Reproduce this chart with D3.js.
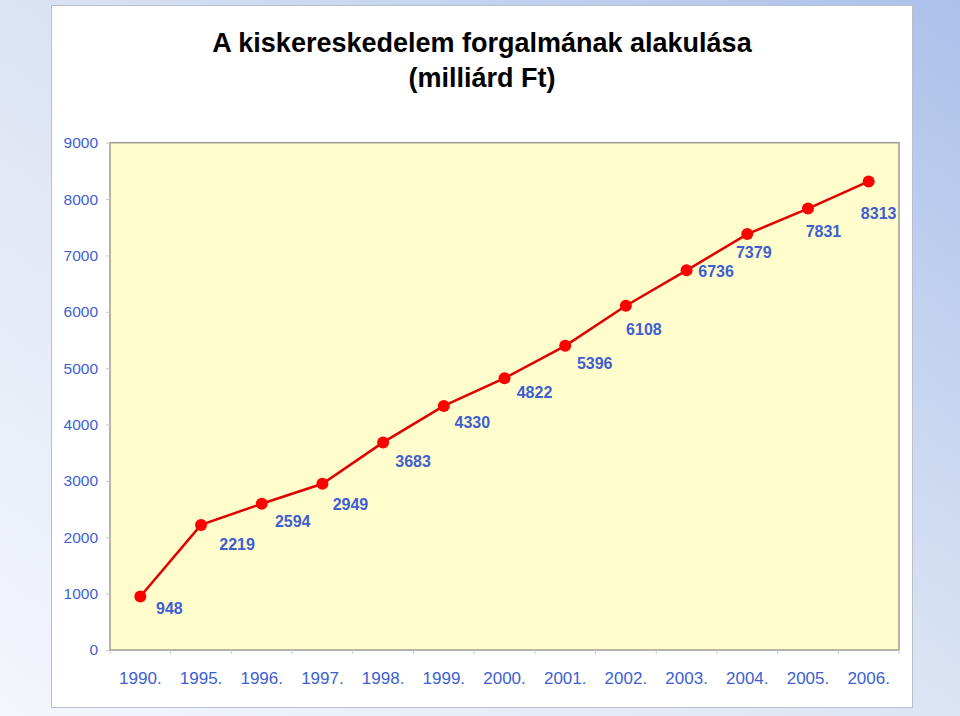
<!DOCTYPE html>
<html>
<head>
<meta charset="utf-8">
<script src="https://cdn.jsdelivr.net/npm/d3@7"></script>
<style>
  html, body { margin: 0; padding: 0; background: #fff; }
  svg { display: block; }
</style>
</head>
<body>
<svg id="chart" width="960" height="716"></svg>
<script>
// ---- data ----
const categories = ["1990.", "1995.", "1996.", "1997.", "1998.", "1999.", "2000.", "2001.", "2002.", "2003.", "2004.", "2005.", "2006."];
const values = [948, 2219, 2594, 2949, 3683, 4330, 4822, 5396, 6108, 6736, 7379, 7831, 8313];
const yTicks = [0, 1000, 2000, 3000, 4000, 5000, 6000, 7000, 8000, 9000];
const titleLines = ["A kiskereskedelem forgalmának alakulása", "(milliárd Ft)"];
// label placement offsets (pixels, relative to the point)
const labelDx = [29, 36, 31, 28, 30, 28.5, 30, 29.5, 18, 29.5, 6.5, 15.5, 10];
const labelDy = [12, 19, 17.5, 20, 18.5, 16, 14.5, 17, 24, 1, 18, 23, 32];

const svg = d3.select("#chart");
const W = 960, H = 716;
const blue = "#3d5fd2";
const font = "'Liberation Sans', Arial, Helvetica, sans-serif";

// background gradient
const defs = svg.append("defs");
const g = defs.append("linearGradient").attr("id", "bg")
  .attr("x1", 1).attr("y1", 0).attr("x2", 0).attr("y2", 1);
g.append("stop").attr("offset", 0).attr("stop-color", "#abc1ea");
g.append("stop").attr("offset", 0.5).attr("stop-color", "#dbe4f4");
g.append("stop").attr("offset", 1).attr("stop-color", "#f4f6fb");
svg.append("rect").attr("width", W).attr("height", H).attr("fill", "url(#bg)");

// white panel
svg.append("rect").attr("x", 51.5).attr("y", 5.5).attr("width", 861).attr("height", 702)
  .attr("fill", "#ffffff").attr("stroke", "#b9bfcb").attr("stroke-width", 1);

// title
svg.append("g").selectAll("text").data(titleLines).join("text")
  .attr("x", 482).attr("y", (d, i) => 51.5 + i * 35)
  .attr("text-anchor", "middle")
  .attr("font-family", font).attr("font-weight", "bold").attr("font-size", 27)
  .attr("fill", "#000").text(d => d);

// scales
const plot = { left: 110, right: 899, top: 142.7, bottom: 650 };
const x = d3.scaleBand().domain(categories).range([plot.left, plot.right]).padding(0);
const y = d3.scaleLinear().domain([0, 9000]).range([plot.bottom, plot.top]);

// plot area
svg.append("rect").attr("x", plot.left).attr("y", plot.top)
  .attr("width", plot.right - plot.left).attr("height", plot.bottom - plot.top)
  .attr("fill", "#fffdcc").attr("stroke", "#9c9c94").attr("stroke-width", 1.5);

// y axis
const yAxis = svg.append("g").attr("transform", `translate(${plot.left},0)`)
  .call(d3.axisLeft(y).tickValues(yTicks).tickSize(4).tickPadding(8).tickFormat(d3.format("d")));
yAxis.select(".domain").remove();
yAxis.selectAll(".tick line").attr("stroke", "#c8c8c8");
yAxis.selectAll("text").attr("font-family", font).attr("font-size", 15.5).attr("fill", blue);

// x axis labels
const xAxis = svg.append("g").attr("transform", `translate(0,${plot.bottom})`)
  .call(d3.axisBottom(x).tickSize(0));
xAxis.select(".domain").remove();
xAxis.selectAll("text").attr("y", 33.5).attr("dy", null)
  .attr("font-family", font).attr("font-size", 17).attr("fill", blue);

// x boundary ticks
const bounds = categories.map(c => x(c)).concat([plot.right]);
svg.append("g").selectAll("line").data(bounds).join("line")
  .attr("x1", d => d).attr("x2", d => d)
  .attr("y1", plot.bottom).attr("y2", plot.bottom + 4)
  .attr("stroke", "#c8c8c8");

// line + markers
const cx = c => x(c) + x.bandwidth() / 2;
const pts = categories.map((c, i) => ({ c, v: values[i], i }));
svg.append("path").datum(pts)
  .attr("d", d3.line().x(d => cx(d.c)).y(d => y(d.v)))
  .attr("fill", "none").attr("stroke", "#e00000").attr("stroke-width", 2.5);
svg.append("g").selectAll("circle").data(pts).join("circle")
  .attr("cx", d => cx(d.c)).attr("cy", d => y(d.v)).attr("r", 6)
  .attr("fill", "#ff0000");

// data labels
svg.append("g").selectAll("text").data(pts).join("text")
  .attr("x", d => cx(d.c) + labelDx[d.i])
  .attr("y", d => y(d.v) + labelDy[d.i])
  .attr("dy", "0.36em")
  .attr("text-anchor", "middle")
  .attr("font-family", font).attr("font-weight", "bold").attr("font-size", 16)
  .attr("fill", blue).text(d => d.v);
</script>
</body>
</html>
